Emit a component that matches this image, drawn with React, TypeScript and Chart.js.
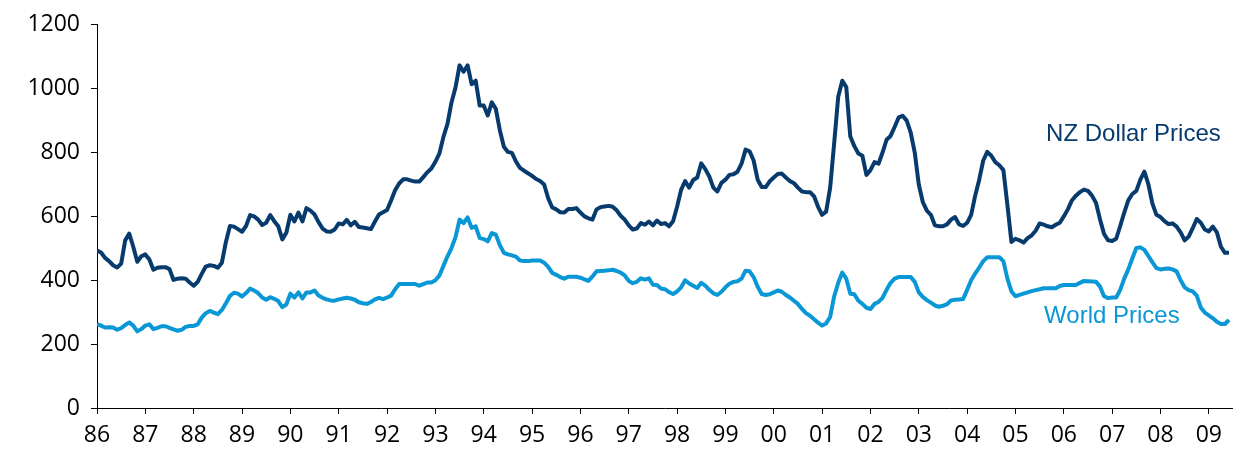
import React, { useEffect, useRef } from "react";
import { Chart, registerables } from "chart.js";

Chart.register(...registerables);

const yearLabels = ["86","87","88","89","90","91","92","93","94","95","96","97","98","99","00","01","02","03","04","05","06","07","08","09"];

// Monthly values, Jan 1986 – Jun 2009
const nzDollarPrices = [
  493, 487, 470, 460, 447, 440, 452, 525, 546, 505, 458, 475,
  481, 465, 433, 439, 441, 441, 435, 401, 405, 406, 405, 393,
  383, 395, 420, 443, 447, 445, 439, 455, 520, 570, 568, 560,
  552, 570, 604, 600, 590, 573, 580, 604, 585, 569, 528, 549,
  605, 584, 612, 584, 626, 618, 606, 582, 562, 553, 552, 559,
  578, 575, 589, 572, 583, 567, 565, 563, 560, 584, 606, 613,
  620, 650, 682, 703, 716, 716, 712, 709, 709, 723, 738, 750,
  771, 797, 849, 890, 957, 1004, 1073, 1053, 1073, 1014, 1025, 947,
  947, 916, 957, 937, 870, 818, 802, 799, 772, 752, 743, 735,
  727, 717, 711, 700, 657, 628, 622, 613, 612, 623, 623, 626,
  612, 600, 594, 590, 622, 629, 631, 633, 630, 619, 602, 590,
  572, 559, 562, 579, 574, 584, 572, 587, 576, 579, 569, 585,
  630, 683, 711, 690, 714, 722, 766, 748, 725, 690, 678, 705,
  715, 730, 732, 740, 765, 809, 804, 775, 715, 692, 692, 710,
  722, 733, 734, 722, 711, 704, 690, 678, 676, 676, 663, 630,
  605, 615, 690, 830, 975, 1025, 1005, 850, 820, 797, 790, 730,
  745, 770, 765, 800, 840, 852, 880, 910, 915, 900, 862, 800,
  700, 645, 618, 605, 572, 569, 569, 575, 590, 598, 575, 570,
  580, 605, 665, 715, 775, 802, 790, 770, 760, 745, 636, 520,
  530, 525, 518, 532, 540, 555, 578, 574, 569, 566, 574, 580,
  600, 622, 650, 665, 676, 684, 680, 665, 642, 590, 545, 525,
  523, 530, 570, 612, 650, 670, 680, 715, 740, 700, 640, 605,
  598, 585, 576, 578, 568, 550, 525, 537, 563, 592, 580, 559,
  553, 568, 550, 505, 486, 486,
];

const worldPrices = [
  263, 258, 252, 253, 252, 245, 250, 260, 268, 258, 240, 247,
  258, 262, 247, 251, 256, 256, 251, 246, 242, 245, 254, 257,
  257, 262, 283, 297, 304, 299, 294, 307, 328, 351, 361, 358,
  349, 360, 374, 368, 360, 346, 339, 347, 342, 335, 316, 324,
  358, 346, 362, 343, 362, 362, 368, 352, 345, 340, 337, 336,
  340, 343, 345, 343, 339, 331, 328, 326, 332, 340, 345, 341,
  346, 352, 372, 388, 388, 388, 388, 388, 383, 388, 393, 393,
  400, 415, 445, 475, 501, 535, 590, 579, 597, 564, 569, 532,
  529, 522, 548, 543, 510, 486, 481, 478, 474, 462, 460, 460,
  462, 462, 462, 455, 442, 423, 417, 410, 405, 411, 411, 411,
  408, 403, 398, 412, 428, 429, 430, 431, 433, 429, 424, 415,
  398, 391, 395, 406, 402, 406, 386, 385, 374, 372, 363, 357,
  365, 378, 400, 390, 383, 376, 392, 383, 370, 359, 354, 364,
  378, 389, 395, 397, 405, 430, 428, 410, 380, 357, 354, 356,
  362, 368, 364, 354, 346, 336, 326, 310, 297, 289, 278, 267,
  258, 265, 285, 350, 392, 424, 405, 358, 356, 336, 326, 314,
  310, 326, 332, 345, 370, 392, 405, 410, 410, 410, 410, 395,
  362, 348, 338, 330, 321, 317, 320, 325, 337, 339, 340, 341,
  370, 400, 421, 440, 460, 472, 472, 472, 472, 460, 405, 365,
  350, 354, 358, 362, 366, 369, 372, 375, 375, 375, 375, 382,
  385, 385, 385, 385, 392, 398, 397, 396, 395, 380, 350, 344,
  346, 346, 370, 405, 434, 468, 501, 503, 495, 476, 456, 438,
  434, 436, 437, 434, 428, 400, 378, 369, 365, 352, 315, 299,
  290, 281, 270, 263, 263, 276,
];

const seriesNames = ["NZ Dollar Prices", "World Prices"];
const NZ_COLOR = "#073a6d";
const WORLD_COLOR = "#0a97d6";

const labelPlugin = {
  id: "seriesLabels",
  afterDatasetsDraw(chart: any) {
    const { ctx, scales } = chart;
    const xs = scales.x;
    const ys = scales.y;
    ctx.save();
    ctx.font = '24px "Liberation Sans", Arial, sans-serif';
    ctx.textAlign = "left";
    ctx.textBaseline = "middle";
    ctx.fillStyle = NZ_COLOR;
    ctx.fillText(seriesNames[0], xs.getPixelForValue(235.6), ys.getPixelForValue(857));
    ctx.fillStyle = WORLD_COLOR;
    ctx.fillText(seriesNames[1], xs.getPixelForValue(235.1), ys.getPixelForValue(288));
    ctx.restore();
  },
};

export default function App() {
  const canvasRef = useRef<HTMLCanvasElement | null>(null);

  useEffect(() => {
    document.body.style.margin = "0";
    const canvas = canvasRef.current;
    if (!canvas) return;
    const toPoints = (arr: number[]) => arr.map((v, i) => ({ x: i, y: v }));
    const tickFont = { family: '"Open Sans", sans-serif', size: 23 };
    const chart = new Chart(canvas, {
      type: "line",
      data: {
        datasets: [
          {
            label: seriesNames[0],
            data: toPoints(nzDollarPrices),
            borderColor: NZ_COLOR,
            backgroundColor: NZ_COLOR,
            borderWidth: 4,
            pointRadius: 0,
            tension: 0,
            borderJoinStyle: "round",
          },
          {
            label: seriesNames[1],
            data: toPoints(worldPrices),
            borderColor: WORLD_COLOR,
            backgroundColor: WORLD_COLOR,
            borderWidth: 4,
            pointRadius: 0,
            tension: 0,
            borderJoinStyle: "round",
          },
        ],
      },
      options: {
        responsive: false,
        maintainAspectRatio: false,
        animation: false,
        devicePixelRatio: 1,
        layout: { padding: { top: 8, right: 0, left: 0, bottom: 0 } },
        plugins: { legend: { display: false }, tooltip: { enabled: false } },
        scales: {
          x: {
            type: "linear",
            min: 0,
            max: 282,
            afterBuildTicks: (s: any) => {
              s.ticks = yearLabels.map((_, k) => ({ value: k * 12 }));
            },
            afterFit: (s: any) => {
              s.height = 42;
            },
            ticks: {
              autoSkip: false,
              maxRotation: 0,
              color: "#000",
              font: tickFont,
              padding: 8,
              callback: (v: any) => yearLabels[Math.round(Number(v) / 12)] ?? "",
            },
            grid: { drawOnChartArea: false, drawTicks: true, tickLength: 6, color: "#000" },
            border: { display: true, color: "#000", width: 1 },
          },
          y: {
            min: 0,
            max: 1200,
            afterFit: (s: any) => {
              s.width = 97;
            },
            ticks: {
              stepSize: 200,
              color: "#000",
              font: tickFont,
              padding: 11,
              callback: (v: any) => String(v),
            },
            grid: { drawOnChartArea: false, drawTicks: true, tickLength: 6, color: "#000" },
            border: { display: true, color: "#000", width: 1 },
          },
        },
      },
      plugins: [labelPlugin],
    });
    return () => chart.destroy();
  }, []);

  return (
    <div style={{ width: 1233, height: 450 }}>
      <canvas ref={canvasRef} width={1233} height={450} style={{ display: "block" }} />
    </div>
  );
}
